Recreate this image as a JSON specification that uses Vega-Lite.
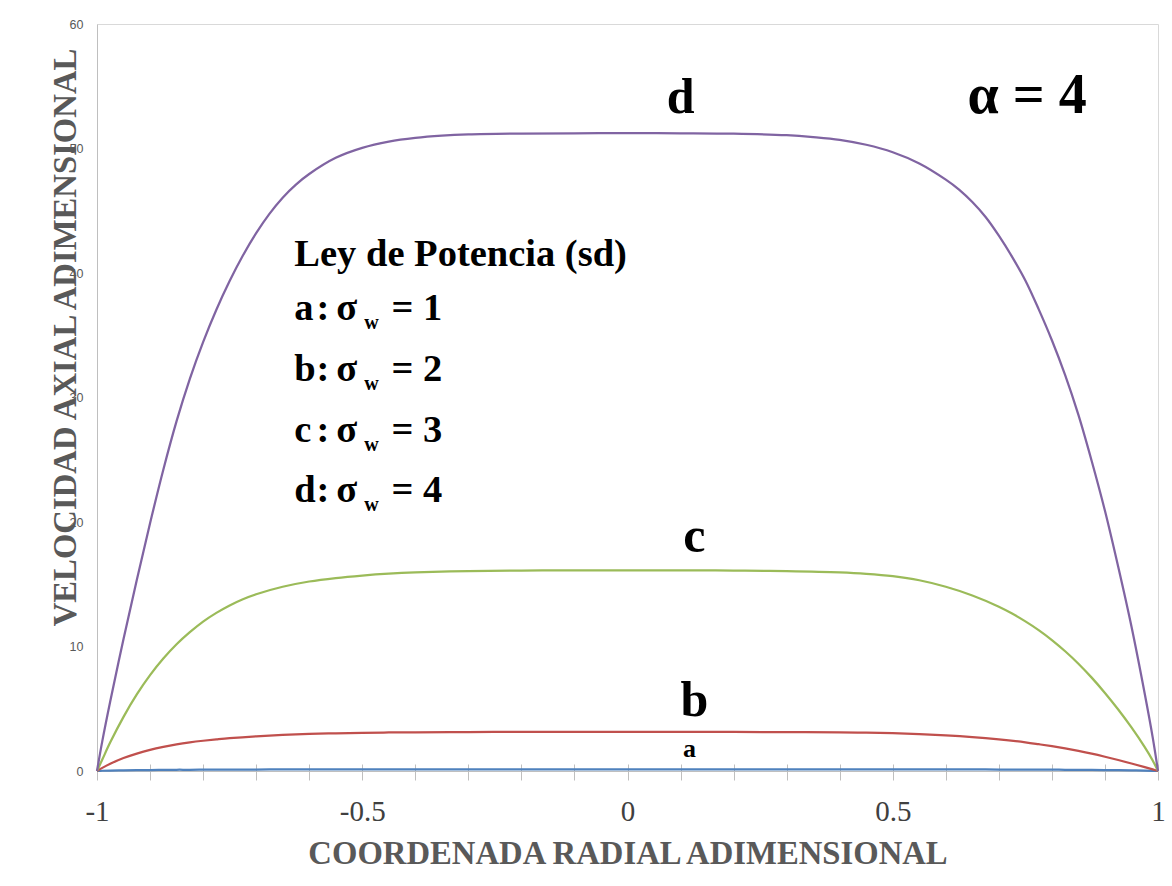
{
  "$schema": "https://vega.github.io/schema/vega-lite/v6.json",
  "width": 1061,
  "height": 747,
  "autosize": {"type": "none"},
  "padding": {"left": 97, "top": 24, "right": 14, "bottom": 115},
  "background": "white",
  "config": {"view": {"stroke": "#d9d9d9", "strokeWidth": 1}, "font": "Liberation Serif"},
  "datasets": {
    "perfiles": [
      {"s":"a","r":-1,"u":0},{"s":"a","r":-0.99,"u":0.02},{"s":"a","r":-0.975,"u":0.04},{"s":"a","r":-0.95,"u":0.06},{"s":"a","r":-0.925,"u":0.07},{"s":"a","r":-0.9,"u":0.08},{"s":"a","r":-0.875,"u":0.09},{"s":"a","r":-0.85,"u":0.1},{"s":"a","r":-0.825,"u":0.1},{"s":"a","r":-0.8,"u":0.11},{"s":"a","r":-0.775,"u":0.11},{"s":"a","r":-0.75,"u":0.115},{"s":"a","r":-0.7,"u":0.12},{"s":"a","r":-0.65,"u":0.125},{"s":"a","r":-0.6,"u":0.13},{"s":"a","r":-0.55,"u":0.13},{"s":"a","r":-0.5,"u":0.135},{"s":"a","r":-0.45,"u":0.135},{"s":"a","r":-0.4,"u":0.14},{"s":"a","r":-0.3,"u":0.14},{"s":"a","r":-0.2,"u":0.14},{"s":"a","r":-0.1,"u":0.14},{"s":"a","r":0,"u":0.14},{"s":"a","r":0.1,"u":0.14},{"s":"a","r":0.2,"u":0.14},{"s":"a","r":0.3,"u":0.14},{"s":"a","r":0.4,"u":0.14},{"s":"a","r":0.45,"u":0.135},{"s":"a","r":0.5,"u":0.135},{"s":"a","r":0.55,"u":0.13},{"s":"a","r":0.6,"u":0.13},{"s":"a","r":0.65,"u":0.125},{"s":"a","r":0.7,"u":0.12},{"s":"a","r":0.75,"u":0.115},{"s":"a","r":0.775,"u":0.11},{"s":"a","r":0.8,"u":0.11},{"s":"a","r":0.825,"u":0.1},{"s":"a","r":0.85,"u":0.1},{"s":"a","r":0.875,"u":0.09},{"s":"a","r":0.9,"u":0.08},{"s":"a","r":0.925,"u":0.07},{"s":"a","r":0.95,"u":0.06},{"s":"a","r":0.975,"u":0.04},{"s":"a","r":0.99,"u":0.02},{"s":"a","r":1,"u":0},
      {"s":"b","r":-1,"u":0},{"s":"b","r":-0.99,"u":0.25},{"s":"b","r":-0.975,"u":0.58},{"s":"b","r":-0.95,"u":1.04},{"s":"b","r":-0.925,"u":1.4},{"s":"b","r":-0.9,"u":1.7},{"s":"b","r":-0.875,"u":1.94},{"s":"b","r":-0.85,"u":2.14},{"s":"b","r":-0.825,"u":2.3},{"s":"b","r":-0.8,"u":2.43},{"s":"b","r":-0.775,"u":2.54},{"s":"b","r":-0.75,"u":2.64},{"s":"b","r":-0.7,"u":2.79},{"s":"b","r":-0.65,"u":2.9},{"s":"b","r":-0.6,"u":2.98},{"s":"b","r":-0.55,"u":3.03},{"s":"b","r":-0.5,"u":3.07},{"s":"b","r":-0.45,"u":3.095},{"s":"b","r":-0.4,"u":3.11},{"s":"b","r":-0.3,"u":3.13},{"s":"b","r":-0.2,"u":3.14},{"s":"b","r":-0.1,"u":3.14},{"s":"b","r":0,"u":3.14},{"s":"b","r":0.1,"u":3.14},{"s":"b","r":0.2,"u":3.138},{"s":"b","r":0.3,"u":3.125},{"s":"b","r":0.4,"u":3.1},{"s":"b","r":0.45,"u":3.075},{"s":"b","r":0.5,"u":3.035},{"s":"b","r":0.55,"u":2.97},{"s":"b","r":0.6,"u":2.87},{"s":"b","r":0.65,"u":2.73},{"s":"b","r":0.7,"u":2.54},{"s":"b","r":0.75,"u":2.3},{"s":"b","r":0.775,"u":2.15},{"s":"b","r":0.8,"u":1.99},{"s":"b","r":0.825,"u":1.81},{"s":"b","r":0.85,"u":1.61},{"s":"b","r":0.875,"u":1.39},{"s":"b","r":0.9,"u":1.145},{"s":"b","r":0.925,"u":0.883},{"s":"b","r":0.95,"u":0.603},{"s":"b","r":0.975,"u":0.308},{"s":"b","r":0.99,"u":0.125},{"s":"b","r":1,"u":0},
      {"s":"c","r":-1,"u":0},{"s":"c","r":-0.99,"u":0.92},{"s":"c","r":-0.975,"u":2.3},{"s":"c","r":-0.95,"u":4.35},{"s":"c","r":-0.925,"u":6.15},{"s":"c","r":-0.9,"u":7.7},{"s":"c","r":-0.875,"u":9.03},{"s":"c","r":-0.85,"u":10.18},{"s":"c","r":-0.825,"u":11.15},{"s":"c","r":-0.8,"u":12.0},{"s":"c","r":-0.775,"u":12.7},{"s":"c","r":-0.75,"u":13.3},{"s":"c","r":-0.725,"u":13.8},{"s":"c","r":-0.7,"u":14.2},{"s":"c","r":-0.65,"u":14.8},{"s":"c","r":-0.6,"u":15.22},{"s":"c","r":-0.55,"u":15.5},{"s":"c","r":-0.5,"u":15.7},{"s":"c","r":-0.45,"u":15.85},{"s":"c","r":-0.4,"u":15.95},{"s":"c","r":-0.3,"u":16.06},{"s":"c","r":-0.2,"u":16.1},{"s":"c","r":-0.1,"u":16.12},{"s":"c","r":0,"u":16.12},{"s":"c","r":0.1,"u":16.12},{"s":"c","r":0.2,"u":16.1},{"s":"c","r":0.3,"u":16.05},{"s":"c","r":0.4,"u":15.95},{"s":"c","r":0.45,"u":15.84},{"s":"c","r":0.5,"u":15.65},{"s":"c","r":0.55,"u":15.32},{"s":"c","r":0.6,"u":14.8},{"s":"c","r":0.65,"u":14.1},{"s":"c","r":0.7,"u":13.2},{"s":"c","r":0.725,"u":12.65},{"s":"c","r":0.75,"u":12.02},{"s":"c","r":0.775,"u":11.32},{"s":"c","r":0.8,"u":10.52},{"s":"c","r":0.825,"u":9.62},{"s":"c","r":0.85,"u":8.62},{"s":"c","r":0.875,"u":7.5},{"s":"c","r":0.9,"u":6.27},{"s":"c","r":0.925,"u":4.94},{"s":"c","r":0.95,"u":3.5},{"s":"c","r":0.975,"u":1.92},{"s":"c","r":0.99,"u":0.85},{"s":"c","r":1,"u":0},
      {"s":"d","r":-1,"u":0},{"s":"d","r":-0.99,"u":2.4},{"s":"d","r":-0.975,"u":5.6},{"s":"d","r":-0.95,"u":10.6},{"s":"d","r":-0.925,"u":15.35},{"s":"d","r":-0.9,"u":19.9},{"s":"d","r":-0.875,"u":24.2},{"s":"d","r":-0.85,"u":28.1},{"s":"d","r":-0.825,"u":31.5},{"s":"d","r":-0.8,"u":34.45},{"s":"d","r":-0.775,"u":37.05},{"s":"d","r":-0.75,"u":39.35},{"s":"d","r":-0.725,"u":41.4},{"s":"d","r":-0.7,"u":43.2},{"s":"d","r":-0.675,"u":44.75},{"s":"d","r":-0.65,"u":46.05},{"s":"d","r":-0.625,"u":47.1},{"s":"d","r":-0.6,"u":47.95},{"s":"d","r":-0.55,"u":49.25},{"s":"d","r":-0.5,"u":50.05},{"s":"d","r":-0.45,"u":50.55},{"s":"d","r":-0.4,"u":50.85},{"s":"d","r":-0.35,"u":51.03},{"s":"d","r":-0.3,"u":51.13},{"s":"d","r":-0.2,"u":51.2},{"s":"d","r":-0.1,"u":51.22},{"s":"d","r":0,"u":51.23},{"s":"d","r":0.1,"u":51.22},{"s":"d","r":0.2,"u":51.19},{"s":"d","r":0.3,"u":51.07},{"s":"d","r":0.35,"u":50.92},{"s":"d","r":0.4,"u":50.7},{"s":"d","r":0.45,"u":50.3},{"s":"d","r":0.5,"u":49.7},{"s":"d","r":0.55,"u":48.8},{"s":"d","r":0.6,"u":47.5},{"s":"d","r":0.625,"u":46.7},{"s":"d","r":0.65,"u":45.7},{"s":"d","r":0.675,"u":44.5},{"s":"d","r":0.7,"u":43.0},{"s":"d","r":0.725,"u":41.3},{"s":"d","r":0.75,"u":39.4},{"s":"d","r":0.775,"u":37.1},{"s":"d","r":0.8,"u":34.6},{"s":"d","r":0.825,"u":31.8},{"s":"d","r":0.85,"u":28.6},{"s":"d","r":0.875,"u":24.9},{"s":"d","r":0.9,"u":20.9},{"s":"d","r":0.925,"u":16.4},{"s":"d","r":0.95,"u":11.6},{"s":"d","r":0.975,"u":6.2},{"s":"d","r":0.99,"u":2.7},{"s":"d","r":1,"u":0}
    ],
    "etiquetas": [
      {"t": "d", "x": 0.1, "y": 52.85},
      {"t": "c", "x": 0.126, "y": 17.59},
      {"t": "b", "x": 0.126, "y": 4.42}
    ],
    "etiquetaA": [{"t": "a", "x": 0.117, "y": 1.12}],
    "parametro": [{"t": "α = 4", "x": 0.641, "y": 52.85}],
    "leyenda": [
      {"t": "Ley de Potencia (sd)", "x": -0.628, "y": 40.56},
      {"t": "a", "x": -0.628, "y": 36.22}, {"t": ":", "x": -0.5863, "y": 36.22}, {"t": "σ", "x": -0.549, "y": 36.22}, {"t": "= 1", "x": -0.445, "y": 36.22},
      {"t": "b", "x": -0.628, "y": 31.33}, {"t": ":", "x": -0.5863, "y": 31.33}, {"t": "σ", "x": -0.549, "y": 31.33}, {"t": "= 2", "x": -0.445, "y": 31.33},
      {"t": "c", "x": -0.628, "y": 26.43}, {"t": ":", "x": -0.5863, "y": 26.43}, {"t": "σ", "x": -0.549, "y": 26.43}, {"t": "= 3", "x": -0.445, "y": 26.43},
      {"t": "d", "x": -0.628, "y": 21.61}, {"t": ":", "x": -0.5863, "y": 21.61}, {"t": "σ", "x": -0.549, "y": 21.61}, {"t": "= 4", "x": -0.445, "y": 21.61}
    ],
    "subindices": [
      {"t": "w", "x": -0.496, "y": 35.5},
      {"t": "w", "x": -0.496, "y": 30.61},
      {"t": "w", "x": -0.496, "y": 25.71},
      {"t": "w", "x": -0.496, "y": 20.89}
    ]
  },
  "layer": [
    {
      "data": {"name": "perfiles"},
      "mark": {"type": "line", "strokeWidth": 2.25, "interpolate": "catmull-rom"},
      "encoding": {
        "x": {
          "field": "r", "type": "quantitative",
          "scale": {"domain": [-1, 1], "nice": false, "zero": false},
          "axis": {
            "orient": "bottom",
            "values": [-1, -0.9, -0.8, -0.7, -0.6, -0.5, -0.4, -0.3, -0.2, -0.1, 0, 0.1, 0.2, 0.3, 0.4, 0.5, 0.6, 0.7, 0.8, 0.9, 1],
            "labelExpr": "datum.value % 0.5 == 0 ? toString(datum.value) : ''",
            "labelFlush": false, "labelOverlap": false,
            "labelFont": "Liberation Serif", "labelFontSize": 29, "labelColor": "#404040",
            "labelBaseline": "alphabetic", "labelPadding": 40,
            "tickSize": 9, "tickColor": "#bfbfbf", "tickWidth": 1,
            "domainColor": "#bfbfbf", "domainWidth": 1, "grid": false,
            "title": "COORDENADA RADIAL ADIMENSIONAL",
            "titleFont": "Liberation Serif", "titleFontSize": 32.7, "titleFontWeight": "bold", "titleColor": "#595959",
            "titleBaseline": "alphabetic", "titleY": 92, "titleX": 530.5, "titleAlign": "center"
          }
        },
        "y": {
          "field": "u", "type": "quantitative",
          "scale": {"domain": [0, 60], "nice": false},
          "axis": {
            "values": [0, 10, 20, 30, 40, 50, 60],
            "ticks": false, "tickSize": 0, "grid": false,
            "domainColor": "#bfbfbf", "domainWidth": 1,
            "labelFont": "Liberation Sans", "labelFontSize": 12.5, "labelColor": "#595959",
            "labelPadding": 14, "labelFlush": false, "labelOverlap": false,
            "title": "VELOCIDAD AXIAL ADIMENSIONAL",
            "titleFont": "Liberation Serif", "titleFontSize": 32.7, "titleFontWeight": "bold", "titleColor": "#595959",
            "titleAngle": 270, "titleBaseline": "alphabetic", "titleAlign": "center",
            "titleX": -22, "titleY": 313
          }
        },
        "color": {
          "field": "s", "type": "nominal",
          "scale": {"domain": ["a", "b", "c", "d"], "range": ["#4F81BD", "#C0504D", "#9BBB59", "#8064A2"]},
          "legend": null
        }
      }
    },
    {
      "data": {"name": "etiquetas"},
      "mark": {"type": "text", "font": "Liberation Serif", "fontWeight": "bold", "fontSize": 50, "align": "center", "baseline": "alphabetic", "color": "black"},
      "encoding": {
        "x": {
          "field": "x", "type": "quantitative",
          "scale": {"domain": [-1, 1], "nice": false, "zero": false},
          "axis": {
            "orient": "bottom", "offset": -7,
            "values": [-1, -0.9, -0.8, -0.7, -0.6, -0.5, -0.4, -0.3, -0.2, -0.1, 0, 0.1, 0.2, 0.3, 0.4, 0.5, 0.6, 0.7, 0.8, 0.9, 1],
            "labels": false, "domain": false, "grid": false,
            "tickSize": 7, "tickColor": "#bfbfbf", "tickWidth": 1, "title": null
          }
        },
        "y": {"field": "y", "type": "quantitative", "scale": {"domain": [0, 60], "nice": false}},
        "text": {"field": "t"}
      }
    },
    {
      "data": {"name": "etiquetaA"},
      "mark": {"type": "text", "font": "Liberation Serif", "fontWeight": "bold", "fontSize": 26, "align": "center", "baseline": "alphabetic", "color": "black"},
      "encoding": {
        "x": {"field": "x", "type": "quantitative", "scale": {"domain": [-1, 1], "nice": false, "zero": false}, "axis": null},
        "y": {"field": "y", "type": "quantitative", "scale": {"domain": [0, 60], "nice": false}},
        "text": {"field": "t"}
      }
    },
    {
      "data": {"name": "parametro"},
      "mark": {"type": "text", "font": "Liberation Serif", "fontWeight": "bold", "fontSize": 56, "align": "left", "baseline": "alphabetic", "color": "black"},
      "encoding": {
        "x": {"field": "x", "type": "quantitative", "scale": {"domain": [-1, 1], "nice": false, "zero": false}, "axis": null},
        "y": {"field": "y", "type": "quantitative", "scale": {"domain": [0, 60], "nice": false}},
        "text": {"field": "t"}
      }
    },
    {
      "data": {"name": "leyenda"},
      "mark": {"type": "text", "font": "Liberation Serif", "fontWeight": "bold", "fontSize": 38.5, "align": "left", "baseline": "alphabetic", "color": "black"},
      "encoding": {
        "x": {"field": "x", "type": "quantitative", "scale": {"domain": [-1, 1], "nice": false, "zero": false}, "axis": null},
        "y": {"field": "y", "type": "quantitative", "scale": {"domain": [0, 60], "nice": false}},
        "text": {"field": "t"}
      }
    },
    {
      "data": {"name": "subindices"},
      "mark": {"type": "text", "font": "Liberation Serif", "fontWeight": "bold", "fontSize": 20, "align": "left", "baseline": "alphabetic", "color": "black"},
      "encoding": {
        "x": {"field": "x", "type": "quantitative", "scale": {"domain": [-1, 1], "nice": false, "zero": false}, "axis": null},
        "y": {"field": "y", "type": "quantitative", "scale": {"domain": [0, 60], "nice": false}},
        "text": {"field": "t"}
      }
    }
  ],
  "resolve": {"axis": {"x": "independent"}}
}
